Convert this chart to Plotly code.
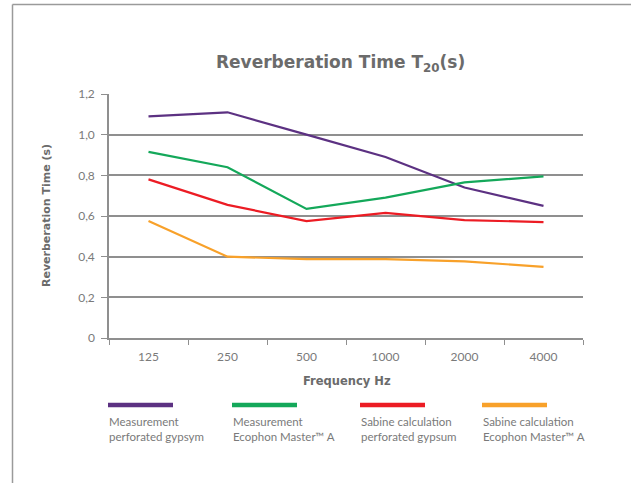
import plotly.graph_objects as go

# Reverberation time T20 per octave band
frequencies = ["125", "250", "500", "1000", "2000", "4000"]
meas_gypsum = [1.09, 1.11, 1.00, 0.89, 0.74, 0.65]
meas_ecophon = [0.915, 0.84, 0.635, 0.69, 0.765, 0.795]
sabine_gypsum = [0.78, 0.655, 0.575, 0.615, 0.58, 0.57]
sabine_ecophon = [0.575, 0.40, 0.388, 0.388, 0.377, 0.35]

series_names = [
    "Measurement<br>perforated gypsym",
    "Measurement<br>Ecophon Master\u2122 A",
    "Sabine calculation<br>perforated gypsum",
    "Sabine calculation<br>Ecophon Master\u2122 A",
]
series_values = [meas_gypsum, meas_ecophon, sabine_gypsum, sabine_ecophon]
colors = ["#5c3182", "#14a85a", "#ec1c24", "#f8a12a"]

y_ticks = [0, 0.2, 0.4, 0.6, 0.8, 1.0, 1.2]
y_ticktext = ["0", "0,2", "0,4", "0,6", "0,8", "1,0", "1,2"]

FONT = "Lato, 'Open Sans', sans-serif"
BOLD = "'DejaVu Sans', sans-serif"
GREY = "#7a7a7a"
DARK = "#6b6b6b"
AXIS = "#8f8f8f"

fig = go.Figure()
for name, vals, col in zip(series_names, series_values, colors):
    fig.add_trace(go.Scatter(
        x=frequencies, y=vals, mode="lines", name=name,
        line=dict(color=col, width=2.2), showlegend=False,
    ))

# plot area in pixels: x 109..583, y 94..338
W, H = 631, 483
L, R, T, B = 109, 48, 94, 145
pw, ph = W - L - R, H - T - B


def px_x(x):
    return (x - L) / pw


def px_y(y):
    return (H - B - y) / ph


shapes = [
    # outer frame (left and top only)
    dict(type="line", xref="paper", yref="paper",
         x0=px_x(12.5), x1=px_x(W + 5), y0=px_y(4.5), y1=px_y(4.5),
         line=dict(color="#9a9a9a", width=1.5)),
    dict(type="line", xref="paper", yref="paper",
         x0=px_x(12.5), x1=px_x(12.5), y0=px_y(4.5), y1=px_y(H + 5),
         line=dict(color="#9a9a9a", width=1.5)),
]
annotations = []
legend_x = [108, 232, 360, 482]
for lx, name, col in zip(legend_x, series_names, colors):
    shapes.append(dict(
        type="line", xref="paper", yref="paper",
        x0=px_x(lx), x1=px_x(lx + 65), y0=px_y(405), y1=px_y(405),
        line=dict(color=col, width=4.5),
    ))
    annotations.append(dict(
        xref="paper", yref="paper", x=px_x(lx - 1), y=px_y(413),
        xanchor="left", yanchor="top", align="left", showarrow=False,
        text=name, font=dict(family=FONT, size=11.5, color=GREY),
    ))

annotations.append(dict(
    xref="paper", yref="paper", x=px_x(340), y=px_y(63),
    xanchor="center", yanchor="middle", showarrow=False,
    text="<b>Reverberation Time T<sub>20</sub>(s)</b>",
    font=dict(family=BOLD, size=17, color=DARK),
))
annotations.append(dict(
    xref="paper", yref="paper", x=px_x(347), y=px_y(381),
    xanchor="center", yanchor="middle", showarrow=False,
    text="<b>Frequency Hz</b>",
    font=dict(family=BOLD, size=11.5, color=DARK),
))
annotations.append(dict(
    xref="paper", yref="paper", x=px_x(46), y=px_y(216),
    xanchor="center", yanchor="middle", showarrow=False, textangle=-90,
    text="<b>Reverberation Time (s)</b>",
    font=dict(family=BOLD, size=11, color=DARK),
))

fig.update_layout(
    width=W, height=H,
    margin=dict(l=L, r=R, t=T, b=B, autoexpand=False),
    paper_bgcolor="white", plot_bgcolor="white",
    font=dict(family=FONT, color=GREY),
    shapes=shapes, annotations=annotations,
    xaxis=dict(
        type="category", range=[-0.5, 5.5], showgrid=False,
        showline=True, linecolor=AXIS, linewidth=1.5,
        ticks="outside", ticklen=5, tickcolor=AXIS, tickson="boundaries",
        tickfont=dict(family=FONT, size=12, color=GREY),
        ticklabelstandoff=7, automargin=False,
    ),
    yaxis=dict(
        range=[0, 1.2], tickvals=y_ticks, ticktext=y_ticktext,
        showgrid=True, gridcolor=AXIS, gridwidth=1.5,
        showline=True, linecolor=AXIS, linewidth=1.5,
        ticks="outside", ticklen=6, tickcolor=AXIS,
        tickfont=dict(family=FONT, size=12, color=GREY),
        ticklabelstandoff=4, zeroline=False, automargin=False,
    ),
)

# drop the page's default body margin so the figure sits at the window origin
fig.write_html("out.html", config={"displayModeBar": False},
               post_script="document.body.style.margin='0';")
